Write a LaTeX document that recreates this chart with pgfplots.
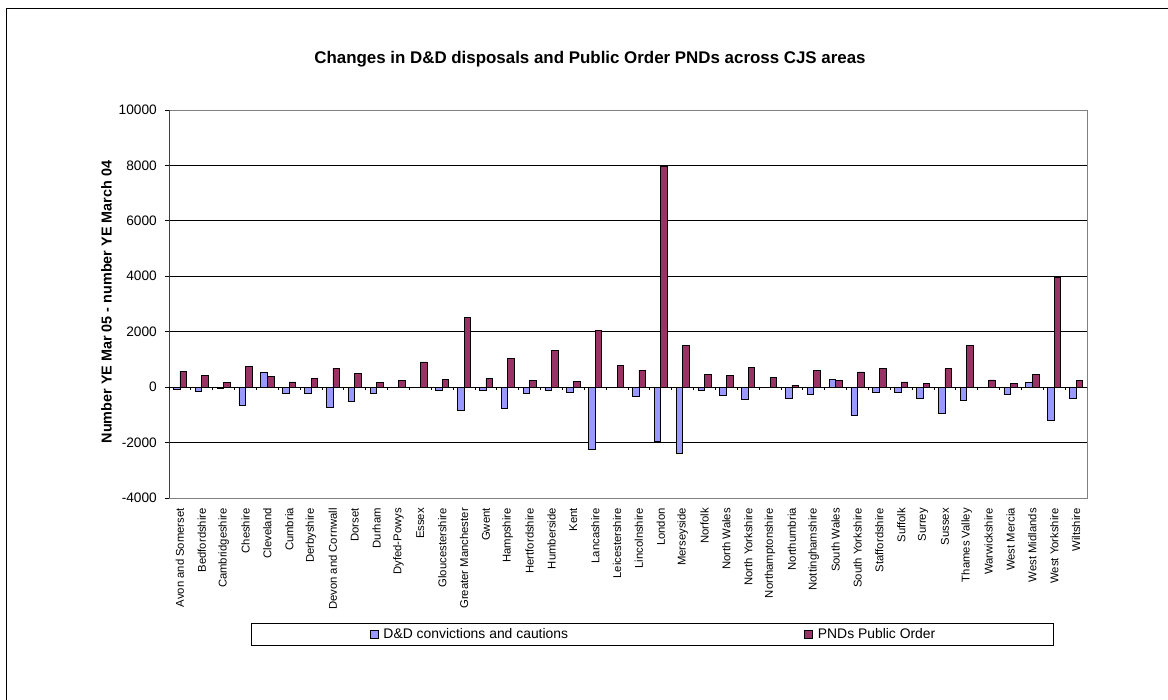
\documentclass[border=0pt]{standalone}
\usepackage{fontspec}
\setmainfont{Liberation Sans}
\usepackage{pgfplots}
\usepackage{pgfplotstable}
\pgfplotsset{compat=1.18}

\definecolor{ddblue}{HTML}{9999FF}
\definecolor{pndred}{HTML}{993366}

% change YE Mar 05 minus YE Mar 04, per CJS area (idx 0..41)
\pgfplotstableread{
idx dd pnd
0 -70 570
1 -150 430
2 -60 170
3 -650 760
4 540 380
5 -240 190
6 -240 320
7 -720 690
8 -510 490
9 -240 160
10 -15 240
11 -20 910
12 -120 290
13 -820 2500
14 -130 300
15 -770 1030
16 -230 240
17 -120 1330
18 -200 220
19 -2250 2050
20 0 790
21 -350 610
22 -1940 7950
23 -2400 1490
24 -110 460
25 -280 420
26 -430 710
27 -15 350
28 -410 70
29 -260 610
30 280 230
31 -1030 550
32 -200 690
33 -180 190
34 -410 140
35 -940 660
36 -460 1510
37 -20 260
38 -260 130
39 160 460
40 -1200 3950
41 -390 250
}\cjsdata

\begin{document}
\begin{tikzpicture}
\useasboundingbox (0pt,0pt) rectangle (1168pt,700pt);
\draw[line width=1pt] (6.5pt,0pt) -- (6.5pt,691.5pt) -- (1168pt,691.5pt);

\node[font=\bfseries\fontsize{16.9}{20}\selectfont, anchor=base] at (590pt,636.5pt)
  {Changes in D\&D disposals and Public Order PNDs across CJS areas};
\node[font=\bfseries\fontsize{14.4}{17}\selectfont, rotate=90, anchor=base] at (111.7pt,398pt)
  {Number YE Mar 05 - number YE March 04};

\begin{axis}[
  at={(169pt,202pt)}, anchor=south west,
  scale only axis, width=918pt, height=388pt,
  ybar=0pt, bar width=6.6pt,
  xmin=-0.5, xmax=41.5, ymin=-4000, ymax=10000,
  scaled y ticks=false,
  ytick={-4000,-2000,...,10000},
  yticklabels={-4000,-2000,0,2000,4000,6000,8000,10000},
  ytick pos=left,
  xtick={0,...,41},
  xticklabels={Avon and Somerset,Bedfordshire,Cambridgeshire,Cheshire,Cleveland,
    Cumbria,Derbyshire,Devon and Cornwall,Dorset,Durham,Dyfed-Powys,Essex,
    Gloucestershire,Greater Manchester,Gwent,Hampshire,Hertfordshire,Humberside,
    Kent,Lancashire,Leicestershire,Lincolnshire,London,Merseyside,Norfolk,
    North Wales,North Yorkshire,Northamptonshire,Northumbria,Nottinghamshire,
    South Wales,South Yorkshire,Staffordshire,Suffolk,Surrey,Sussex,
    Thames Valley,Warwickshire,West Mercia,West Midlands,West Yorkshire,Wiltshire},
  ymajorgrids, grid style={black, line width=0.8pt},
  axis line style={draw=gray, line width=0.8pt},
  tick align=outside, major tick length=4pt,
  xtick style={draw=none},
  ytick style={black, line width=0.8pt},
  yticklabel style={font=\fontsize{13.7}{16}\selectfont, inner sep=0pt, anchor=east},
  xticklabel style={font=\fontsize{11.3}{13}\selectfont, rotate=90, anchor=east, inner sep=0pt},
  xticklabel shift=6pt,
  yticklabel shift=8pt,
  legend columns=2,
  legend style={at={(0.5267,-0.351)}, anchor=center, draw=black, line width=0.8pt,
    inner xsep=118pt, inner ysep=5pt, font=\fontsize{13.9}{16}\selectfont,
    nodes={inner sep=0pt},
    /tikz/every odd column/.append style={column sep=5pt},
    /tikz/every even column/.append style={column sep=236pt}},
  legend image code/.code={\draw[#1, draw=black, line width=0.8pt] (0pt,-4pt) rectangle (8pt,4pt);},
]
\addplot[fill=ddblue, draw=black, line width=0.7pt] table[x=idx, y=dd] {\cjsdata};
\addplot[fill=pndred, draw=black, line width=0.7pt] table[x=idx, y=pnd] {\cjsdata};
\legend{D\&D convictions and cautions, PNDs Public Order}
\draw[black!75, line width=1.4pt] (rel axis cs:0,0) -- (rel axis cs:0,1);
\draw[black, line width=0.9pt] (axis cs:-0.5,0) -- (axis cs:41.5,0);
\pgfplotsinvokeforeach{-0.5,0.5,...,41.5}{
  \draw[black, line width=0.8pt] (axis cs:#1,0) -- ++(0pt,-3pt);
}
\end{axis}
\end{tikzpicture}
\end{document}
